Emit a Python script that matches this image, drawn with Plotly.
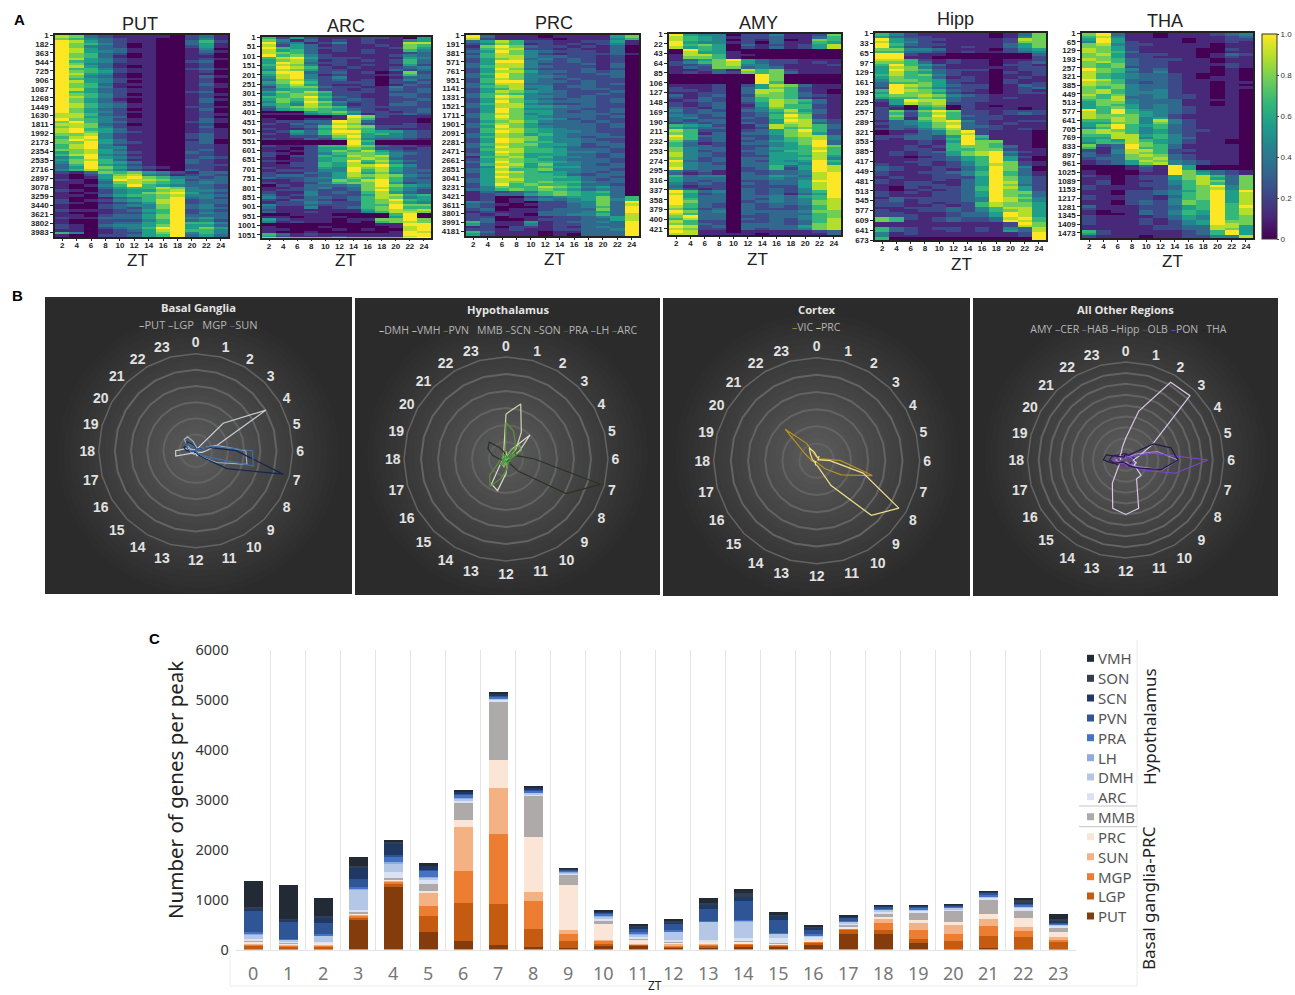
import plotly.graph_objects as go

W, H = 1295, 995
def px(x): return x / W
def py(y): return 1 - y / H

# ---------------- Panel A data: one string per block of rows, ZT 2..24, values in ninths (0-9 -> 0-1)
ZT_COLS = [2, 4, 6, 8, 10, 12, 14, 16, 18, 20, 22, 24]
PUT_ROWS = """873211110231 764321100241 985321100362 976420100351 974320100251 985331100140 985431100131 976320100120
976310100110 985421100121 965421100230 974311100120 985310100120 966421100231 976521100120 985410100110
974310100131 965421100120 985420100120 976311100131 976410100121 985321100120 965321100230 976420100121
986421100120 975310100131 975320100130 986431100120 986431100221 975320100130 975421100120 886320100121
885430100120 976421100131 796431100231 887320100120 787421100130 896531100121 897532100121 778421100231
689421100231 798531100130 779532100230 689421100221 689441100221 778531100231 578542100321 689431100221
469542100232 578631100321 479653100321 369542100222 359753210221 468642100321 213767542133 102578431232
101589764323 210498875233 110378765343 101469654332 100356687432 210245578443 101245789532 110356678443
100134679342 201245689233 210123589233 100234479342 100232479343 211123569232 100122469243 110233579333
211333579453 100222469342 100233569664 210344579553 210234699575 110123589664 640122579464 100223569353"""
ARC_ROWS = """625211122105 741312121145 934124121188 825312112176 965322111275 856312121164 876311121123 967421111243
689522211154 578412121263 598322111263 687412121152 598621211234 487522111323 699323120172 589412111263
489424110133 378523120242 579622220223 468521120132 267732211422 356622121323 576862221223 467752211332
667963211232 576852321223 475974221232 564863121332 367876222222 256765321223 000567522123 111456412232
000001972111 100111861110 122339831110 213238721121 112369872221 211258762111 125369965532 214368856432
112237954432 211326843321 000000960000 000000950000 211266873221 110255762212 101257685322 210246776432
202265878422 101256787322 211256968532 102265857422 112265889642 211254978532 122244968533 211335857432
233235878743 322345768632 112337689633 211246779523 021333479754 112342378643 122322379642 211423268532
312422258856 421332368745 213321367965 122432267854 422322266977 311412367966 211111157878 311211146887
001110000690 110111000590 521110117797 412110106787 000000001199 100010000189 110001010089 100100000198
631211111199 521112111189"""
PRC_ROWS = """931110111157 821111011146 358622112251 247612121241 179732212130 268822121130 359743222130 268742122231
368843322120 257834232120 259943232120 358842223130 368843222130 259732223120 258853323230 369743222330
359744322230 268743232220 269943323220 358833223230 367844233220 256834223320 258754322230 367643322320
369844323220 258743233230 259754333230 368843223220 358855433220 259744332230 259755323230 368745333320
369754333230 268755423220 257864332320 368753333230 359754333230 268865433220 269865443220 358756433320
368775432330 259875443220 259866443320 368775542330 359765432230 268866533320 259866544320 358755533230
167856443230 258765433320 359766543320 268857443230 249756553330 358667443320 359865543230 258766532330
259766653320 358866553230 358767664330 259676653320 247668764530 346767653430 132346765630 123356765530
120023455736 120134345746 430102244739 321012234738 320002234639 230112333739 121113334539 212103344638
220111223458 230012223358 631151233439 521141223339 120221213439 221211223349 631110113339 521110103339"""
AMY_ROWS = """954402241127 865412231136 865402130176 954412031165 967503121258 856502131258 096500000000 085510000000
188611000000 177610000000 135795322111 246785322121 223784421112 132773431111 112318672111 121327673111
000000970000 000000970000 000000970000 000000960000 111202587311 211203576211 221203886210 112203876310
312302776321 213203676211 123203687631 212302587531 212301586621 321302476621 423203468531 323302357631
432302369721 342203268721 323302259842 232303258832 654201387863 543301286763 862202357962 761303357852
963302247884 862303246784 742302356793 631203345793 633202245697 743302355686 742303346696 843202355686
843202255585 742303355684 932303254596 843203355495 843303363598 943302362598 423102233498 312103233489
634403354389 533303343489 532302233599 423203233589 312202222589 421203232489 963403232469 852303231359
953303343569 963303243468 973302343478 963203233478 863203232368 752303222368 973403333477 863303233367
793302233467 683303232468 862202232368 763203332378 982303333578 872203233478 981101111123 881111011113"""
HIPP_ROWS = """642111110137 532211110147 953221111287 854211111277 963221111357 952211211357 774431110245 663321211234
992110000003 991100000002 886212110112 776312110123 696531110221 587421111122 597632220122 586532110212
686742110112 576631210121 477652210211 366752110212 398753220132 297642220123 698763210121 597752110122
677874321111 566763221211 259883221111 158782211111 120670210111 210560211101 273797221222 262686221232
272696322111 261786222111 134689421122 234578321211 133579332111 232468322121 011347921110 012347821110
223325961110 213326951110 111215977110 111216976110 112126776310 112216677211 121235789421 121225789311
110123569520 111223569510 112212469721 211212468721 321122359740 321121359730 211223469631 211122469631
121122259742 211121359742 212211359842 112221359732 102122369852 101212369752 212122359773 211122359763
132222349874 231222349864 221212268775 221121268775 112223246885 211223246785 221112335985 222112335985
762123223896 761123223986 111111111297 111111111287 632122121438 632112121538 412111111129 411111111129
600000000009"""
THA_ROWS = """793110111234 684110111123 595111101122 495211101121 784221111011 775211111011 875211110021 876311110011
785222110132 775221110121 876322211011 786322111011 767322111121 767222111021 976423111010 876324111010
865433210010 865433210110 986333211110 876323211011 877433211010 767433211011 786434211010 786444211010
867434221010 768334221010 678433311110 577433311010 576534311010 567534321110 969644321110 869654321110
877754211110 878745211110 668748421110 557747421110 579656321110 469646321110 787645322110 788645321110
668856421110 558846431110 565865421100 466875421100 723976311110 613966311110 214886221110 314876211110
323787321110 233778321110 123587432110 123578432110 000131950000 000121950000 100021974321 100011975321
210122578637 110122578537 120112468737 120122468637 211122367947 211112367847 110223457959 110223467958
211221367958 211221467958 110232476958 110232476968 311122356969 211122356968 101132465968 100132465968
211112354967 211121354967 211121245977 211121245987 111112233885 111112233875 621111123695 521111123695
211101122448"""

PUT_TICKS = list(range(1, 3984, 181))
ARC_TICKS = list(range(1, 1052, 50))
PRC_TICKS = list(range(1, 4182, 190))
AMY_TICKS = list(range(1, 422, 21))
HIPP_TICKS = list(range(1, 674, 32))
THA_TICKS = list(range(1, 1474, 64))

# ---------------- Panel C data: genes per peak at each ZT
ZT_HOURS = [str(h) for h in range(24)]
PUT = [10, 10, 20, 600, 1255, 355, 165, 100, 50, 30, 65, 85, 40, 50, 60, 60, 85, 320, 310, 135, 20, 25, 3, 3]
LGP = [70, 50, 40, 40, 60, 320, 775, 820, 365, 135, 50, 15, 30, 30, 40, 30, 60, 80, 80, 75, 145, 250, 250, 150]
MGP = [30, 20, 20, 40, 50, 195, 625, 1400, 555, 145, 70, 10, 20, 30, 30, 10, 30, 20, 145, 190, 155, 190, 115, 65]
SUN = [10, 10, 10, 20, 20, 265, 880, 920, 175, 75, 15, 10, 15, 5, 5, 5, 3, 15, 85, 135, 165, 155, 80, 35]
PRC = [50, 40, 50, 30, 20, 40, 155, 560, 1105, 900, 335, 80, 50, 50, 30, 15, 35, 25, 35, 50, 65, 100, 175, 100]
MMB = [10, 10, 5, 20, 30, 145, 335, 1150, 815, 200, 30, 10, 5, 3, 3, 2, 2, 25, 80, 165, 245, 280, 155, 80]
ARC = [40, 30, 10, 50, 120, 65, 50, 50, 50, 45, 70, 40, 30, 15, 70, 100, 30, 50, 25, 30, 20, 30, 45, 50]
DMH = [90, 30, 130, 400, 180, 60, 35, 20, 25, 20, 35, 60, 170, 385, 340, 100, 50, 25, 45, 30, 30, 40, 45, 30]
LH = [20, 10, 10, 10, 10, 15, 15, 15, 15, 10, 10, 20, 10, 5, 5, 3, 3, 5, 5, 5, 3, 5, 5, 3]
PRA = [20, 10, 10, 50, 130, 125, 65, 30, 35, 25, 25, 30, 15, 7, 7, 5, 5, 10, 10, 10, 5, 8, 8, 5]
PVN = [430, 340, 220, 145, 20, 15, 30, 30, 25, 20, 40, 70, 140, 240, 375, 270, 110, 80, 55, 50, 45, 70, 40, 30]
SCN = [30, 40, 130, 225, 210, 85, 30, 30, 30, 20, 25, 30, 30, 90, 80, 80, 30, 15, 10, 7, 5, 10, 30, 30]
SON = [40, 20, 10, 50, 40, 10, 10, 5, 5, 5, 5, 20, 12, 30, 90, 5, 25, 5, 5, 3, 2, 5, 30, 35]
VMH = [530, 670, 360, 165, 40, 35, 25, 20, 15, 10, 15, 30, 40, 100, 70, 70, 30, 10, 8, 10, 10, 5, 40, 100]
STACK_NAMES = ["PUT", "LGP", "MGP", "SUN", "PRC", "MMB", "ARC", "DMH", "LH", "PRA", "PVN", "SCN", "SON", "VMH"]
STACK_VALUES = [PUT, LGP, MGP, SUN, PRC, MMB, ARC, DMH, LH, PRA, PVN, SCN, SON, VMH]
STACK_COLORS = ["#843c0c", "#c55a11", "#ed7d31", "#f4b183", "#fbe5d6", "#aeaaaa", "#dae3f3", "#b4c7e7",
                "#8faadc", "#4472c4", "#2f5597", "#203864", "#333f50", "#222a35"]

# ---------------- Panel B extra series
VIC = [40, 30, 20, 20, 30, 80, 280, 670, 330, 130, 40, 20, 20, 10, 10, 10, 20, 40, 60, 80, 150, 520, 230, 60]
HIPP = [200, 465, 825, 835, 280, 120, 70, 100, 90, 200, 200, 460, 500, 460, 245, 100, 60, 50, 50, 50, 60, 70, 80, 120]
THA = [60, 50, 50, 85, 295, 430, 480, 340, 150, 90, 60, 40, 30, 30, 30, 30, 40, 120, 205, 185, 60, 40, 30, 40]
PON = [30, 20, 20, 30, 60, 245, 755, 470, 185, 80, 50, 60, 40, 40, 40, 50, 60, 80, 120, 110, 60, 40, 30, 30]
CER = [20, 20, 30, 40, 110, 300, 480, 350, 120, 60, 30, 20, 20, 30, 30, 40, 50, 70, 90, 70, 50, 40, 30, 20]
AMY = [50, 30, 20, 20, 40, 80, 90, 60, 50, 60, 70, 50, 40, 40, 50, 60, 90, 110, 150, 130, 90, 70, 60, 60]
HAB = [30, 30, 40, 30, 50, 60, 50, 80, 100, 90, 60, 40, 30, 30, 40, 50, 50, 40, 30, 40, 40, 30, 30, 30]
OLB = [40, 30, 20, 30, 30, 40, 60, 40, 30, 50, 70, 60, 50, 60, 70, 70, 60, 40, 60, 80, 60, 40, 50, 50]

fig = go.Figure()
shapes, annots = [], []

def label(x, y, text, size, color="#000", bold=False, family="Liberation Sans", angle=0, xanchor="center"):
    annots.append(dict(x=px(x), y=py(y), xref="paper", yref="paper", text=f"<b>{text}</b>" if bold else text,
                       showarrow=False, xanchor=xanchor, yanchor="middle", textangle=angle,
                       font=dict(size=size, color=color, family=family)))

# ---------------- Heatmaps
HEATMAPS = [
    ("PUT", PUT_ROWS, PUT_TICKS, 4081, (55, 228, 35, 237), (140, 24), (137, 260)),
    ("ARC", ARC_ROWS, ARC_TICKS, 1065, (262, 431, 37, 237.5), (346, 26), (345, 260)),
    ("PRC", PRC_ROWS, PRC_TICKS, 4277, (466, 639, 35, 236), (554, 23), (554, 259)),
    ("AMY", AMY_ROWS, AMY_TICKS, 434, (669, 841, 33.5, 235), (758, 23), (757, 259)),
    ("Hipp", HIPP_ROWS, HIPP_TICKS, 673, (875, 1046, 33, 240), (955, 19), (961, 265)),
    ("THA", THA_ROWS, THA_TICKS, 1510, (1082, 1253, 33, 238), (1165, 21), (1172, 261)),
]
layout_axes = {}
for i, (name, rows, ticks, nmax, box, tpos, zpos) in enumerate(HEATMAPS, start=1):
    z = [[int(v) / 9 for v in r] for r in rows.split()]
    n = len(z)
    ys = [(k + 0.5) * nmax / n for k in range(n)]
    tr = dict(x=ZT_COLS, y=ys, z=z, colorscale="Viridis", zmin=0, zmax=1, xaxis=f"x{i}", yaxis=f"y{i}", showscale=False)
    if i == 1:
        tr.update(showscale=True, colorbar=dict(
            x=px(1262), xanchor="left", xpad=0, ypad=0, y=py(239), yanchor="bottom", len=205, lenmode="pixels",
            thickness=15, thicknessmode="pixels", tickvals=[0, .2, .4, .6, .8, 1],
            ticktext=["0", "0.2", "0.4", "0.6", "0.8", "1.0"], ticks="outside", ticklen=2,
            outlinecolor="#333", outlinewidth=1,
            tickfont=dict(size=8, color="#333", family="Liberation Sans")))
    fig.add_trace(go.Heatmap(**tr))
    x0, x1, y0, y1 = box
    tick_font = dict(size=8, color="#222", family="Liberation Sans", weight="bold")
    layout_axes[f"xaxis{i}"] = dict(domain=[px(x0), px(x1)], anchor=f"y{i}", range=[1, 25], tickvals=ZT_COLS,
                                    tickangle=0, ticks="outside", ticklen=2, tickcolor="#222", showgrid=False, zeroline=False,
                                    showline=True, mirror=True, linecolor="#222", linewidth=1.5,
                                    ticklabelstandoff=-2, tickfont=tick_font)
    layout_axes[f"yaxis{i}"] = dict(domain=[py(y1), py(y0)], anchor=f"x{i}", range=[nmax, 0], tickvals=ticks,
                                    ticks="outside", ticklen=3, tickcolor="#222", showgrid=False, zeroline=False,
                                    showline=True, mirror=True, linecolor="#222", linewidth=1.5,
                                    tickfont=tick_font)
    label(*tpos, name, 18, "#222")
    label(*zpos, "ZT", 17, "#222")

# ---------------- Radar panels
def gradient_panel(x0, x1, y0, y1):
    shapes.append(dict(type="rect", xref="paper", yref="paper", x0=px(x0), x1=px(x1), y0=py(y1), y1=py(y0),
                       fillcolor="#2b2b2b", line=dict(width=0), layer="below"))
    cx, cy = (x0 + x1) / 2, (y0 + y1) / 2 + 8
    half = min((x1 - x0) / 2, y1 - cy)
    steps = 24
    for k in range(steps):
        r = half * (1 - k / steps)
        shapes.append(dict(type="circle", xref="paper", yref="paper", x0=px(cx - r), x1=px(cx + r),
                           y0=py(cy + r), y1=py(cy - r), fillcolor="rgba(255,255,255,0.012)",
                           line=dict(width=0), layer="below"))

RADARS = [
    dict(title="Basal Ganglia", panel=(45, 352, 297, 594), c=(195.7, 450.7), r=97, rmax=1500, rings=6, ty=307.7, ly=325, lf=11,
         series=[("PUT", PUT, "#c9ced6"), ("LGP", LGP, "#9db2cc"), ("MGP", MGP, "#14264f"), ("SUN", SUN, "#3f6ea8")]),
    dict(title="Hypothalamus", panel=(355, 660, 298, 595), c=(506, 459), r=102, rmax=1200, rings=6, ty=309, ly=330, lf=10.5,
         series=[("DMH", DMH, "#d8dcc8"), ("VMH", VMH, "#cfd6b0"), ("PVN", PVN, "#5d8f3c"), ("MMB", MMB, "#2a3324"),
                 ("SCN", SCN, "#6fa84a"), ("SON", SON, "#8fae6a"), ("PRA", PRA, "#3c6b2a"), ("LH", LH, "#2ee82e"),
                 ("ARC", ARC, "#4f8f4f")]),
    dict(title="Cortex", panel=(663, 970, 298, 596), c=(816.7, 460.7), r=103, rmax=1200, rings=6, ty=309, ly=327, lf=10.5,
         series=[("VIC", VIC, "#b8901e"), ("PRC", PRC, "#efe08a")]),
    dict(title="All Other Regions", panel=(973, 1278, 298, 596), c=(1125.7, 460), r=98, rmax=900, rings=9, ty=309, ly=329, lf=10.5,
         series=[("AMY", AMY, "#2c2350"), ("CER", CER, "#a98bd8"), ("HAB", HAB, "#6a6ac0"), ("Hipp", HIPP, "#d9c6e6"),
                 ("OLB", OLB, "#7a3a7a"), ("PON", PON, "#7d45d0"), ("THA", THA, "#231a4a")]),
]
for i, rd in enumerate(RADARS, start=1):
    key = "polar" if i == 1 else f"polar{i}"
    gradient_panel(*rd["panel"])
    cx, cy = rd["c"]
    r = rd["r"]
    for nm, vals, col in rd["series"]:
        fig.add_trace(go.Scatterpolar(r=vals + vals[:1], theta=ZT_HOURS + ZT_HOURS[:1], subplot=key, mode="lines",
                                      name=nm, showlegend=False, line=dict(color=col, width=1.2)))
    layout_axes[key] = dict(
        domain=dict(x=[px(cx - r), px(cx + r)], y=[py(cy + r), py(cy - r)]),
        bgcolor="rgba(0,0,0,0)", gridshape="linear",
        radialaxis=dict(range=[0, rd["rmax"]], tickvals=[rd["rmax"] * (k + 1) / rd["rings"] for k in range(rd["rings"])],
                        showticklabels=False, ticks="", showline=False, gridcolor="#636363", gridwidth=1.5),
        angularaxis=dict(type="category", categoryarray=ZT_HOURS, direction="clockwise", rotation=90,
                         showgrid=False, showline=True, linecolor="#636363", linewidth=1.5, ticks="",
                         tickfont=dict(size=14, color="#e2e2e2", family="Liberation Sans", weight="bold")))
    pcx = (rd["panel"][0] + rd["panel"][1]) / 2
    label(pcx, rd["ty"], rd["title"], 11.2, "#e4e4e4", bold=True, family="Open Sans")
    legend_text = " ".join(f"<span style='color:{c}'>–</span>{n}" for n, _, c in rd["series"])
    label(pcx, rd["ly"], legend_text, rd["lf"], "#b5b5b5", family="Open Sans")

# ---------------- Stacked bars
n = len(HEATMAPS) + 1
for nm, vals, col in zip(STACK_NAMES, STACK_VALUES, STACK_COLORS):
    fig.add_trace(go.Bar(x=ZT_HOURS, y=vals, name=nm, marker=dict(color=col, line=dict(width=0)),
                         xaxis=f"x{n}", yaxis=f"y{n}", showlegend=False, width=0.55))
layout_axes[f"xaxis{n}"] = dict(domain=[px(235.7), px(1075.7)], anchor=f"y{n}", type="category", categoryarray=ZT_HOURS,
                                tickson="boundaries", ticks="", showgrid=True, gridcolor="#e4e4e4", gridwidth=1,
                                showline=True, linecolor="#e4e4e4", zeroline=False, ticklabelstandoff=8,
                                tickfont=dict(size=18, color="#777", family="Noto Sans"))
layout_axes[f"yaxis{n}"] = dict(domain=[py(949.5), py(649.5)], anchor=f"x{n}", range=[0, 6000], tickvals=list(range(0, 6001, 1000)),
                                ticks="", showgrid=False, zeroline=False, showline=False, ticklabelstandoff=6,
                                tickfont=dict(size=14.5, color="#333", family="Noto Sans"))
# chart frame of panel C
shapes += [
    dict(type="line", xref="paper", yref="paper", x0=px(230), x1=px(230), y0=py(950), y1=py(986), line=dict(color="#ececec", width=1)),
    dict(type="line", xref="paper", yref="paper", x0=px(230), x1=px(1137), y0=py(986), y1=py(986), line=dict(color="#ececec", width=1)),
    dict(type="line", xref="paper", yref="paper", x0=px(1137), x1=px(1137), y0=py(640), y1=py(986), line=dict(color="#ececec", width=1)),
    dict(type="line", xref="paper", yref="paper", x0=px(1079), x1=px(1137), y0=py(806), y1=py(806), line=dict(color="#c4c4c4", width=1)),
    dict(type="line", xref="paper", yref="paper", x0=px(1079), x1=px(1137), y0=py(826.7), y1=py(826.7), line=dict(color="#c4c4c4", width=1)),
]
# legend of panel C
LEGEND_Y = [916, 896, 876.7, 856.7, 836.7, 816.7, 796.7, 777, 757.7, 737.7, 718, 698, 678.3, 658.3]
LEGEND_ORDER = ["PUT", "LGP", "MGP", "SUN", "PRC", "MMB", "ARC", "DMH", "LH", "PRA", "PVN", "SCN", "SON", "VMH"]
for nm, col, ly in zip(LEGEND_ORDER, STACK_COLORS, LEGEND_Y):
    shapes.append(dict(type="rect", xref="paper", yref="paper", x0=px(1087), x1=px(1094), y0=py(ly + 3.5), y1=py(ly - 3.5),
                       fillcolor=col, line=dict(width=0)))
    label(1096, ly, nm, 15, "#555", family="Noto Sans", xanchor="left")

label(175, 790, "Number of genes per peak", 20.5, "#222", family="Noto Sans", angle=-90)
label(655, 985, "ZT", 12, "#222", family="Noto Sans")
label(1149, 727, "Hypothalamus", 17, "#222", family="Noto Sans", angle=-90)
label(1148, 898, "Basal ganglia-PRC", 17, "#222", family="Noto Sans", angle=-90)
label(19, 20, "A", 15, "#000", bold=True)
label(17, 295, "B", 15, "#000", bold=True)
label(154, 638, "C", 15, "#000", bold=True)

fig.update_layout(width=W, height=H, margin=dict(l=0, r=0, t=0, b=0, autoexpand=False), paper_bgcolor="white",
                  plot_bgcolor="white", barmode="stack", showlegend=False, shapes=shapes, annotations=annots,
                  **layout_axes)
fig.write_html("out.html", config={"displayModeBar": False},
               post_script="document.body.style.margin='0';document.body.style.overflow='hidden';")
